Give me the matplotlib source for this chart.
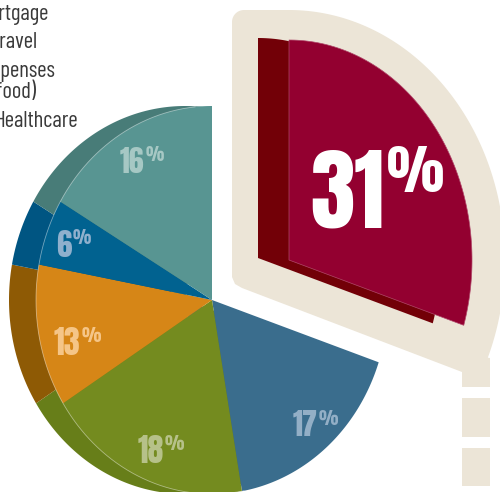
import numpy as np
import matplotlib
matplotlib.use('Agg')
import matplotlib.pyplot as plt
from matplotlib.patches import Polygon, Rectangle
from matplotlib.textpath import TextPath
from matplotlib.font_manager import FontProperties, fontManager

# ---------------- data ----------------
values = [31, 17, 18, 13, 6, 16]
front_colors = ['#930030', '#3A6D8D', '#748B1F', '#D68617', '#016290', '#589592']
side_colors = ['#720007', '#33607D', '#677E19', '#8E5A05', '#005582', '#487C78']
label_colors = ['#FFFFFF', '#93AFC6', '#B6C189', '#F5C587', '#8FB0CD', '#A6C8C4']
legend_texts = ['Mortgage', 'travel', 'Expenses', '(food)', 'Healthcare']

# ---------------- style / layout ----------------
DPI = 100
W, H = 500, 492
beige = '#ECE5D7'

available = {f.name for f in fontManager.ttflist}
def pick(cands, default='DejaVu Sans'):
    for c in cands:
        if c in available:
            return c
    return default

def glyph_ext(s, family, weight):
    tp = TextPath((0, 0), s, size=100, prop=FontProperties(family=family, weight=weight))
    e = tp.get_extents()
    return e.width / 100.0, e.height / 100.0

num_font = pick(['Anton', 'Oswald', 'Saira ExtraCondensed', 'Antonio', 'Roboto Condensed'])

# legend font: the humanist condensed face whose width/x-height ratio is closest to the reference
target_ratio = 81.0 / 11.5
cands = ['PT Sans Narrow', 'Fira Sans Condensed', 'Open Sans Condensed', 'Roboto Condensed',
         'Sofia Sans Condensed', 'Archivo Narrow', 'IBM Plex Sans Condensed', 'Asap Condensed',
         'Encode Sans Condensed', 'Ubuntu Condensed', 'Barlow Semi Condensed', 'Barlow Condensed',
         'Sofia Sans Semi Condensed', 'Source Sans 3']
best, best_err = 'DejaVu Sans', 1e9
for c in cands:
    if c not in available:
        continue
    try:
        w, _ = glyph_ext('Healthcare', c, 'normal')
        _, h = glyph_ext('x', c, 'normal')
        err = abs(w / h - target_ratio)
        if err < best_err:
            best, best_err = c, err
    except Exception:
        pass
txt_font = best

def pt_for(px_height, s, family, weight):
    return px_height / glyph_ext(s, family, weight)[1] * 72.0 / DPI

fig = plt.figure(figsize=(W / DPI, H / DPI), dpi=DPI)
ax = fig.add_axes([0, 0, 1, 1])
ax.set_xlim(0, W)
ax.set_ylim(H, 0)
ax.axis('off')

def wedge_pts(cx, cy, rx, ry, a0, a1, n=160):
    a = np.radians(np.linspace(a0, a1, n))
    s, c = np.sin(a), np.cos(a)
    r = 1.0 / np.sqrt((s / rx) ** 2 + (c / ry) ** 2)
    return np.vstack([[cx, cy], np.column_stack([cx + r * s, cy - r * c])])

def arc_pts(cx, cy, rx, ry, a0, a1, n=200):
    a = np.radians(np.linspace(a0, a1, n))
    s, c = np.sin(a), np.cos(a)
    r = 1.0 / np.sqrt((s / rx) ** 2 + (c / ry) ** 2)
    return np.column_stack([cx + r * s, cy - r * c])

cum = np.concatenate([[0], np.cumsum(values)]) / float(sum(values)) * 360.0

# ---------------- beige callout shape ----------------
ex_cx, ex_cy = 289, 260
pts = []
for t in np.linspace(180, 270, 12):
    tr = np.radians(t)
    pts.append((244 + 12 * np.cos(tr), 22 + 12 * np.sin(tr)))
for t in np.linspace(90, -23, 120):
    tr = np.radians(t)
    pts.append((ex_cx + 216 * np.cos(tr), ex_cy - 250 * np.sin(tr)))
pts += [(490, 358), (490, 387), (462, 387), (462, 372), (242, 288), (235, 284), (232, 277)]
ax.add_patch(Polygon(pts, closed=True, facecolor=beige, edgecolor='none', zorder=1))
ax.add_patch(Rectangle((462, 398), 28, 39, facecolor=beige, edgecolor='none', zorder=1))
ax.add_patch(Rectangle((462, 448), 28, 38, facecolor=beige, edgecolor='none', zorder=1))

# ---------------- exploded slice ----------------
ax.add_patch(Polygon(wedge_pts(ex_cx - 31, ex_cy - 2, 183, 220, cum[0], cum[1]),
                     closed=True, facecolor=side_colors[0], edgecolor='none', zorder=2))
ax.add_patch(Polygon(wedge_pts(ex_cx, ex_cy, 183, 220, cum[0], cum[1]),
                     closed=True, facecolor=front_colors[0], edgecolor='#B0486A', lw=0.5, zorder=3))

# ---------------- main pie ----------------
cx, cy, rx, ry = 212, 300, 176, 194
for i in range(1, len(values)):
    a1 = cum[i + 1] + (8 if i == len(values) - 1 else 0)
    ax.add_patch(Polygon(wedge_pts(cx - 27, cy, rx, ry, cum[i], a1),
                         closed=True, facecolor=side_colors[i], edgecolor='none', zorder=2))
for i in range(1, len(values)):
    ax.add_patch(Polygon(wedge_pts(cx, cy, rx, ry, cum[i], cum[i + 1]),
                         closed=True, facecolor=front_colors[i], edgecolor='none', zorder=3))
arc = arc_pts(cx, cy, rx, ry, cum[1] + 60, 355)
ax.plot(arc[:, 0], arc[:, 1], color='white', lw=0.6, alpha=0.45, zorder=4)

# ---------------- percentage labels ----------------
# (split x, digit baseline, digit height, percent height)
label_pos = [(384, 228, 78, 47), (317.5, 436, 26, 16), (163.5, 463, 28, 16),
             (80.5, 355, 28, 16), (71.5, 257, 27, 15), (144.5, 173, 26, 15)]
for v, col, (sx, base, dh, ph) in zip(values, label_colors, label_pos):
    digits = str(v)
    fs_d = pt_for(dh, digits, num_font, 'bold')
    fs_p = pt_for(ph, '%', num_font, 'bold')
    ax.text(sx, base, digits, ha='right', va='baseline', color=col,
            fontsize=fs_d, family=num_font, fontweight='bold', zorder=5)
    top = base - dh - (5 if dh > 50 else 1)
    ax.text(sx + (3 if dh > 50 else 1), top + ph, '%', ha='left', va='baseline', color=col,
            fontsize=fs_p, family=num_font, fontweight='bold', zorder=5)

# ---------------- legend text (cut by left edge, as in the reference) ----------------
legend_pos = [(49, 20), (38, 48), (55, 77), (36, 98), (78, 127)]
wH = glyph_ext('Healthcare', txt_font, 'normal')[0]
hx = glyph_ext('x', txt_font, 'normal')[1]
fs_leg = (0.3 * (81.0 / wH) + 0.7 * (11.5 / hx)) * 72.0 / DPI
for t, (x, y) in zip(legend_texts, legend_pos):
    ax.text(x, y, t, ha='right', va='baseline', color='#3A3A3A',
            fontsize=fs_leg, family=txt_font, zorder=5)

fig.savefig('out.png', dpi=DPI)
